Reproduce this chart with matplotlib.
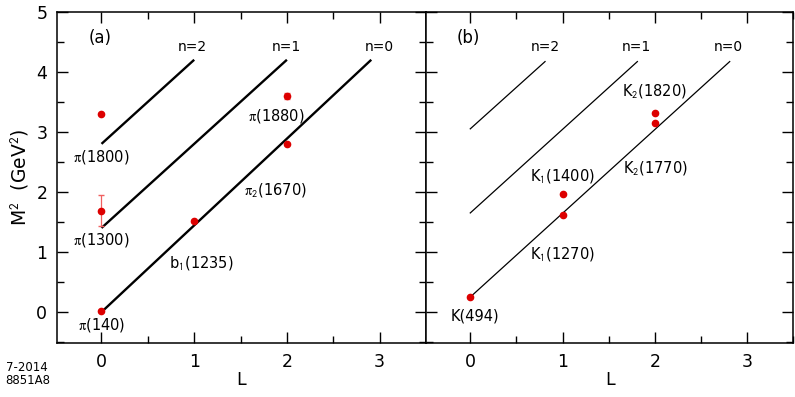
import matplotlib
matplotlib.use("Agg")
import matplotlib.pyplot as plt
from matplotlib.ticker import MultipleLocator

plt.rcParams['font.family'] = ['DejaVu Sans']
plt.rcParams['mathtext.fontset'] = 'stix'

# trajectory lines: (L_start, M2_start, L_end, M2_end)
traj_names = ["n=0", "n=1", "n=2"]
lines_a = [(0.0, 0.0, 2.91, 4.2),
           (0.0, 1.4, 2.0, 4.2),
           (0.0, 2.8, 1.0, 4.2)]
lines_a_lab_x = [3.0, 1.99, 0.98]
lines_b = [(0.0, 0.25, 2.81, 4.17),
           (0.0, 1.65, 1.81, 4.17),
           (0.0, 3.05, 0.81, 4.17)]
lines_b_lab_x = [2.80, 1.80, 0.81]

# pion-like states
pi_L = [0, 1, 2, 2, 0, 0]
pi_M2 = [0.02, 1.51, 2.80, 3.60, 1.69, 3.29]
pi_err = [0, 0, 0, 0.05, 0.26, 0]
pi_names = [r'$\mathrm{\pi}$(140)', r'b$_{\mathsf{1}}$(1235)', r'$\mathrm{\pi}_{\mathsf{2}}$(1670)',
            r'$\mathrm{\pi}$(1880)', r'$\mathrm{\pi}$(1300)', r'$\mathrm{\pi}$(1800)']
pi_lab_x = [0.0, 1.08, 1.88, 1.89, 0.0, 0.0]
pi_lab_y = [-0.22, 0.82, 2.04, 3.26, 1.2, 2.58]

# kaon states
k_L = [0, 1, 1, 2, 2]
k_M2 = [0.25, 1.62, 1.97, 3.14, 3.32]
k_names = ['K(494)', r'K$_{\mathsf{1}}$(1270)', r'K$_{\mathsf{1}}$(1400)',
           r'K$_{\mathsf{2}}$(1770)', r'K$_{\mathsf{2}}$(1820)']
k_lab_x = [0.05, 1.0, 1.0, 2.0, 2.0]
k_lab_y = [-0.06, 0.97, 2.26, 2.4, 3.68]

red = '#dd0000'

fig = plt.figure(figsize=(7.95, 3.97), dpi=100)
ax1 = fig.add_axes([0.0717, 0.1353, 0.4641, 0.8352])
ax2 = fig.add_axes([0.5358, 0.1353, 0.4622, 0.8352])

for ax in (ax1, ax2):
    ax.set_xlim(-0.48, 3.5)
    ax.set_ylim(-0.52, 5)
    ax.xaxis.set_major_locator(MultipleLocator(1))
    ax.xaxis.set_minor_locator(MultipleLocator(0.5))
    ax.yaxis.set_major_locator(MultipleLocator(1))
    ax.yaxis.set_minor_locator(MultipleLocator(0.5))
    ax.tick_params(which='both', direction='in', top=True, right=True,
                   width=1.0, labelsize=12.5)
    ax.tick_params(which='major', length=8, pad=7)
    ax.tick_params(which='minor', length=5)
    for s in ax.spines.values():
        s.set_linewidth(1.1)
    ax.set_xlabel('L', fontsize=12.5, labelpad=0)

ax2.tick_params(labelleft=False)
ax1.set_ylabel(r'M$^{\mathsf{2}}$  (GeV$^{\mathsf{2}}$)', fontsize=13.5, labelpad=4)

for name, (x0, y0, x1, y1), lx in zip(traj_names, lines_a, lines_a_lab_x):
    ax1.plot([x0, x1], [y0, y1], color='black', lw=1.7, solid_capstyle='butt')
    ax1.text(lx, 4.42, name, fontsize=10, ha='center', va='center')
for name, (x0, y0, x1, y1), lx in zip(traj_names, lines_b, lines_b_lab_x):
    ax2.plot([x0, x1], [y0, y1], color='black', lw=0.9)
    ax2.text(lx, 4.42, name, fontsize=10, ha='center', va='center')

ax1.errorbar(pi_L, pi_M2, yerr=pi_err, fmt='o', color=red, ms=4.5,
             ecolor='#f06060', elinewidth=0.9, capsize=2, zorder=3)
for n, x, y in zip(pi_names, pi_lab_x, pi_lab_y):
    ax1.text(x, y, n, fontsize=10.5, ha='center', va='center')

ax2.plot(k_L, k_M2, 'o', color=red, ms=4.5, zorder=3)
for n, x, y in zip(k_names, k_lab_x, k_lab_y):
    ax2.text(x, y, n, fontsize=10.5, ha='center', va='center')

ax1.text(-0.02, 4.56, '(a)', fontsize=12, ha='center', va='center')
ax2.text(-0.02, 4.56, '(b)', fontsize=12, ha='center', va='center')

fig.text(0.007, 0.025, '7-2014\n8851A8', fontsize=8.5, ha='left', va='bottom',
         linespacing=1.0)

fig.savefig('out.png', dpi=100)
